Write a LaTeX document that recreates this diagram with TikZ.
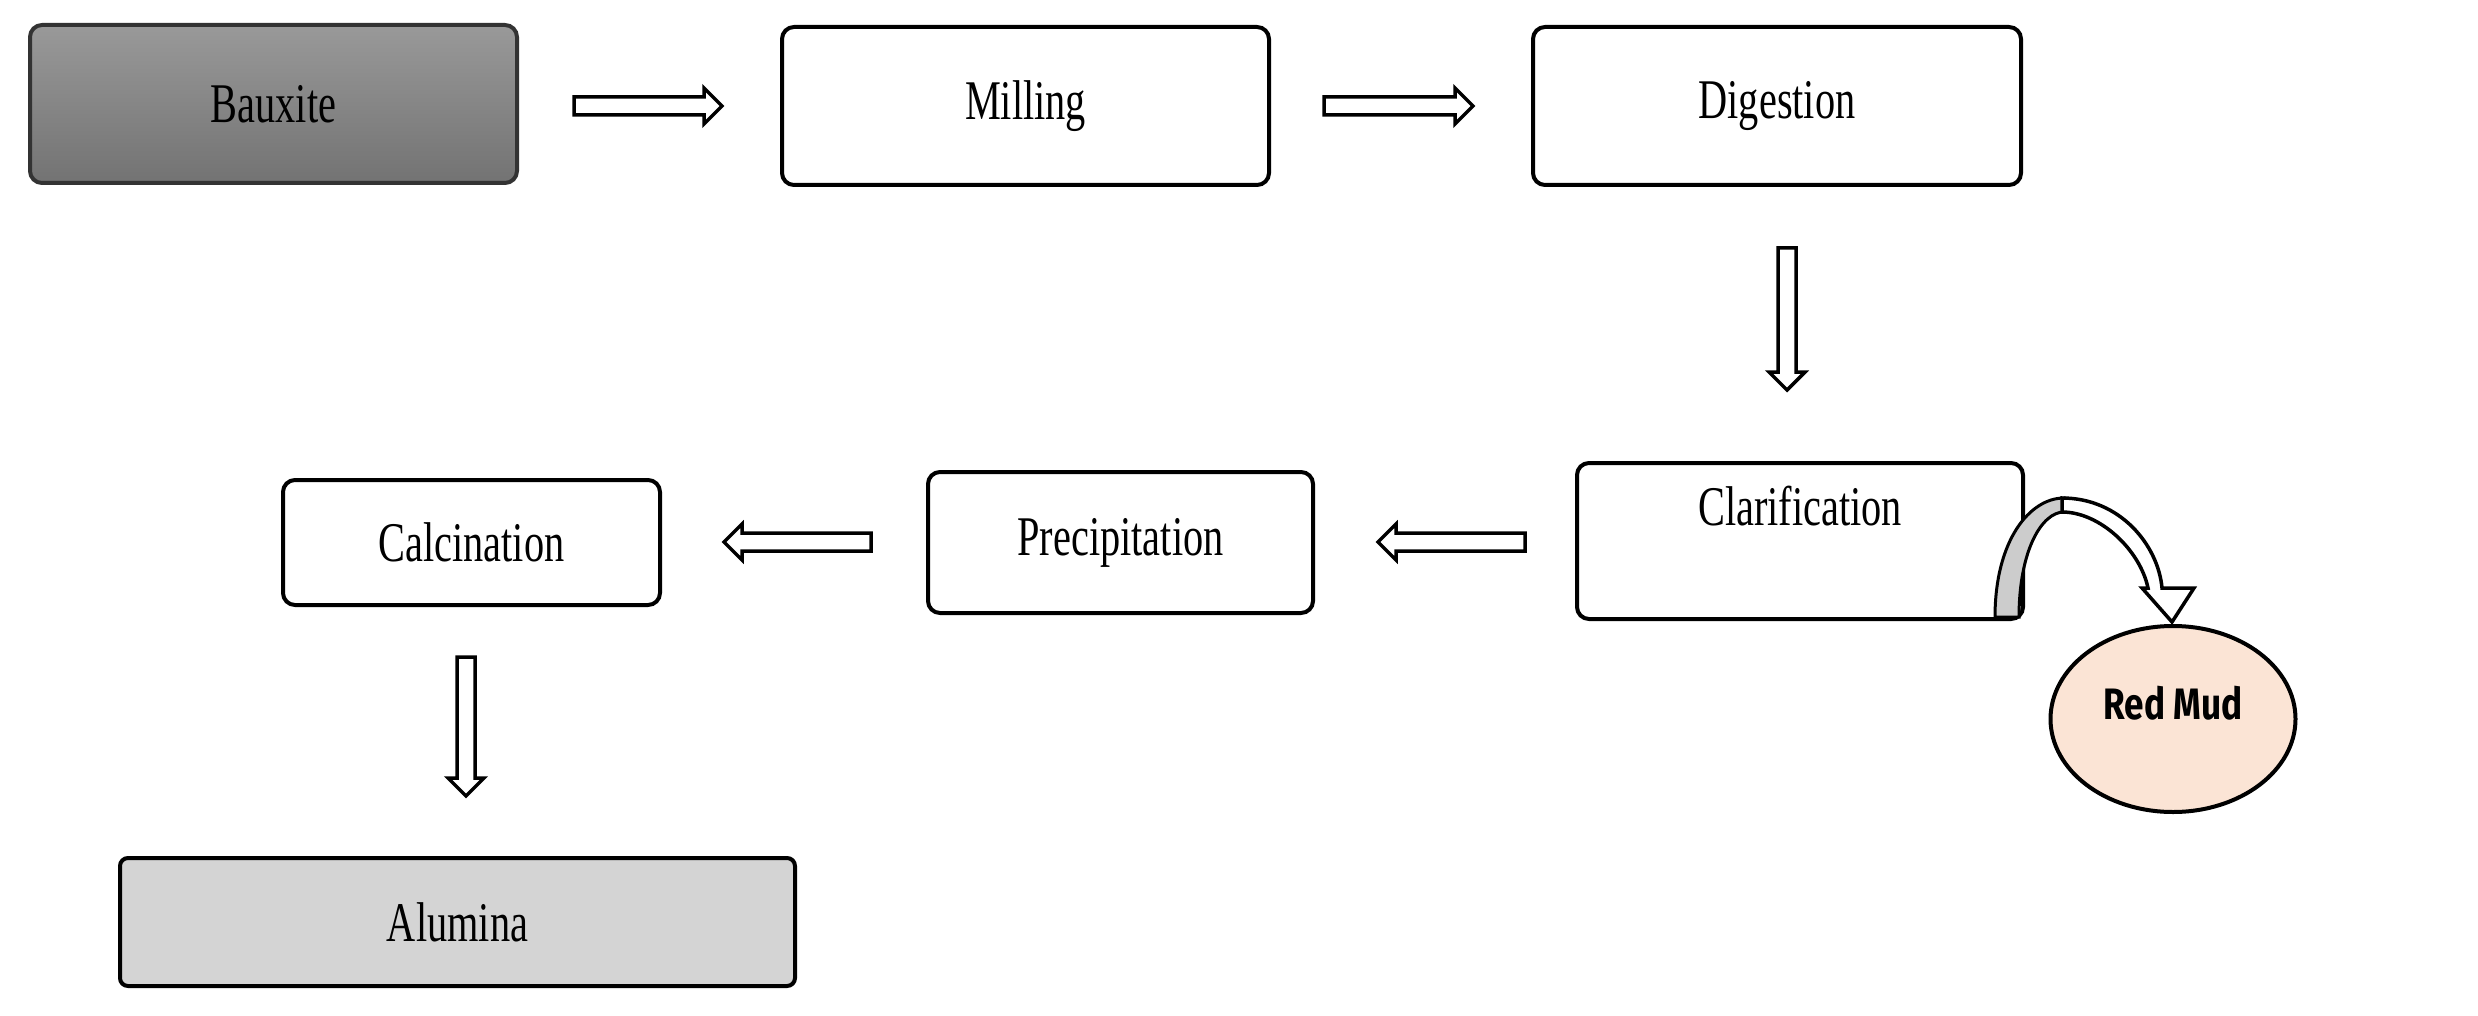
\documentclass[tikz,border=0pt]{standalone}
\usepackage{fontspec}
\setmainfont{Liberation Serif}[FakeStretch=0.72]
\newfontfamily\rmsans{Fira Sans}[FakeStretch=0.8]
\usetikzlibrary{calc,shapes.geometric}
\definecolor{mud}{RGB}{251,228,213}
\newcommand{\blockarr}[2]{%
  \path (#1) coordinate (ba) (#2) coordinate (bb);
  \path ($(bb)!18pt!(ba)$) coordinate (bh);
  \draw[barrow] ($(ba)!9pt!90:(bb)$) -- ($(bh)!9pt!-90:(ba)$) -- ($(bh)!18pt!-90:(ba)$) -- (bb)
    -- ($(bh)!18pt!90:(ba)$) -- ($(bh)!9pt!90:(ba)$) -- ($(ba)!9pt!-90:(bb)$) -- cycle;}
\begin{document}
\begin{tikzpicture}[x=1pt,y=-1pt,
  box/.style={draw=black,line width=4pt,rounded corners=12pt,fill=white,inner sep=0pt,
    font=\fontsize{56}{64}\selectfont},
  barrow/.style={draw=black,line width=3.5pt,fill=white,line join=miter}]
\useasboundingbox (0,0) rectangle (2478,1016);
\node[box,minimum width=487pt,minimum height=158pt,top color=black!40,bottom color=black!55,draw=black!80] (bau) at (273.5,104) {Bauxite};
\node[box,minimum width=487pt,minimum height=158pt] (mil) at (1025.5,106) {Milling};
\node[box,minimum width=488pt,minimum height=158pt] (dig) at (1777,106) {Digestion};
\node[box,minimum width=446pt,minimum height=156pt,label={[anchor=north,yshift=-22pt,font=\fontsize{56}{64}\selectfont]north:Clarification}] (cla) at (1800,541) {};
\node[box,minimum width=385pt,minimum height=141pt] (pre) at (1120.5,542.5) {Precipitation};
\node[box,minimum width=377pt,minimum height=125pt] (cal) at (471.5,542.5) {Calcination};
\node[box,minimum width=675pt,minimum height=128pt,fill=black!17,rounded corners=8pt] (alu) at (457.5,922) {Alumina};
\node[draw=black,line width=4pt,ellipse,fill=mud,minimum width=245pt,minimum height=186pt,inner sep=0pt] (rm) at (2173,719) {};
\node[font=\rmsans\bfseries\fontsize{44}{52}\selectfont] (rmt) at (2173,703) {Red Mud};
\coordinate (a1s) at (574,106); \coordinate (a1e) at (722,106);
\coordinate (a2s) at (1324,106); \coordinate (a2e) at (1473,106);
\coordinate (a3s) at (1787,248); \coordinate (a3e) at (1787,390);
\coordinate (a4s) at (1525,542); \coordinate (a4e) at (1378,542);
\coordinate (a5s) at (871,542); \coordinate (a5e) at (724,542);
\coordinate (a6s) at (466,657); \coordinate (a6e) at (466,796);
\blockarr{a1s}{a1e}
\blockarr{a2s}{a2e}
\blockarr{a3s}{a3e}
\blockarr{a4s}{a4e}
\blockarr{a5s}{a5e}
\blockarr{a6s}{a6e}
% curved arrow
\draw[line width=3pt,fill=black!20] (1995,617) .. controls (1995,540) and (2030,498) .. (2064,498)
  -- (2064,512) .. controls (2042,512) and (2019,550) .. (2019,617) -- cycle;
\draw[line width=3.5pt,fill=white,line join=miter] (2062,498) .. controls (2120,498) and (2158,545) .. (2162,588)
  -- (2194,588) -- (2172,622) -- (2142,588) -- (2148,588)
  .. controls (2140,550) and (2100,512) .. (2062,512) -- cycle;
\end{tikzpicture}
\end{document}
